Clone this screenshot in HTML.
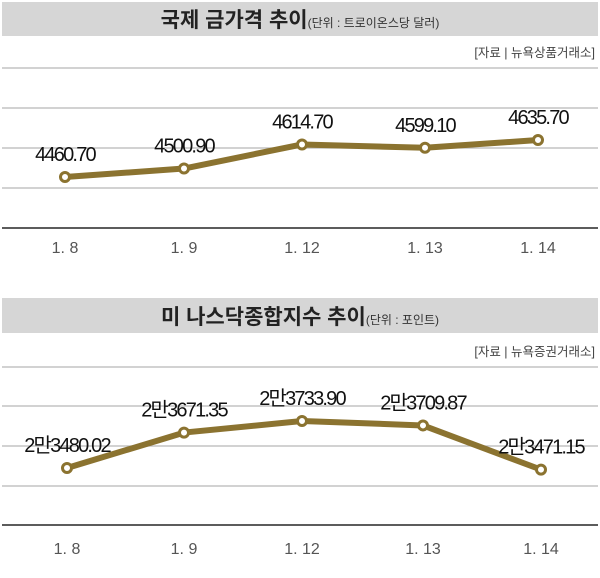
<!DOCTYPE html>
<html><head><meta charset="utf-8"><style>
html,body{margin:0;padding:0;background:#fff;}
svg{display:block;font-family:"Liberation Sans","Noto Sans CJK KR",sans-serif;}
</style></head><body>
<svg id="c" width="600" height="578" viewBox="0 0 600 578">
<rect x="2" y="2" width="596" height="34" fill="#d6d6d6"/>
<text x="300" y="27" text-anchor="middle"><tspan font-size="21" fill="#222" font-weight="bold">국제 금가격 추이</tspan><tspan font-size="12" fill="#333">(단위 : 트로이온스당 달러)</tspan></text>
<text x="595" y="57" text-anchor="end" font-size="12.5" fill="#444">[자료 | 뉴욕상품거래소]</text>
<rect x="2" y="298" width="596" height="35" fill="#d6d6d6"/>
<text x="300" y="324" text-anchor="middle"><tspan font-size="21" fill="#222" font-weight="bold">미 나스닥종합지수 추이</tspan><tspan font-size="12" fill="#333">(단위 : 포인트)</tspan></text>
<text x="595" y="356" text-anchor="end" font-size="12.5" fill="#444">[자료 | 뉴욕증권거래소]</text>
</svg>
<script>
const categories=["1. 8","1. 9","1. 12","1. 13","1. 14"];
const goldValues=[4460.70,4500.90,4614.70,4599.10,4635.70];
const goldLabels=["4460.70","4500.90","4614.70","4599.10","4635.70"];
const nasdaqValues=[23480.02,23671.35,23733.90,23709.87,23471.15];
const nasdaqLabels=["2만3480.02","2만3671.35","2만3733.90","2만3709.87","2만3471.15"];
const svg=document.getElementById('c');
const NS='http://www.w3.org/2000/svg';
function mk(t,a){const e=document.createElementNS(NS,t);for(const k in a)e.setAttribute(k,a[k]);svg.appendChild(e);return e;}
function chart(id,vals,labels,xs,grids,base,dmin,dmax,labY){
  const y=v=>base-(v-dmin)/(dmax-dmin)*(base-grids[0]);
  grids.forEach((g,i)=>{const l=mk('line',{x1:2,x2:598,y1:g,y2:g,stroke:'#b8b8b8','stroke-width':1.3});
    
    });
  const b=mk('line',{x1:2,x2:598,y1:base,y2:base,stroke:'#444','stroke-width':1.8});
  
  
  const pts=vals.map((v,i)=>xs[i]+','+y(v)).join(' ');
  const pl=mk('polyline',{points:pts,fill:'none',stroke:'#8b7330','stroke-width':6,'stroke-linejoin':'round'});
  
  
  vals.forEach((v,i)=>{
    const c=mk('circle',{cx:xs[i],cy:y(v),r:4.5,fill:'#fff',stroke:'#8b7330','stroke-width':3});
    
    
    const t=mk('text',{x:xs[i],y:y(v)-16,'text-anchor':'middle','font-size':20,fill:'#111','letter-spacing':'-1.8'});
    t.textContent=labels[i];
    
    
    const xl=mk('text',{x:xs[i],y:labY,'text-anchor':'middle','font-size':16,fill:'#555'});
    xl.textContent=categories[i];
    
    
  });
}
chart('gold',goldValues,goldLabels,[65,184,302,425,538],[68,108,148,188],228,4219.5,4976.4,253);
chart('nasdaq',nasdaqValues,nasdaqLabels,[67,184,302,423,541],[367,406,446,486],525,23172,24025.6,554);
</script>
</body></html>
